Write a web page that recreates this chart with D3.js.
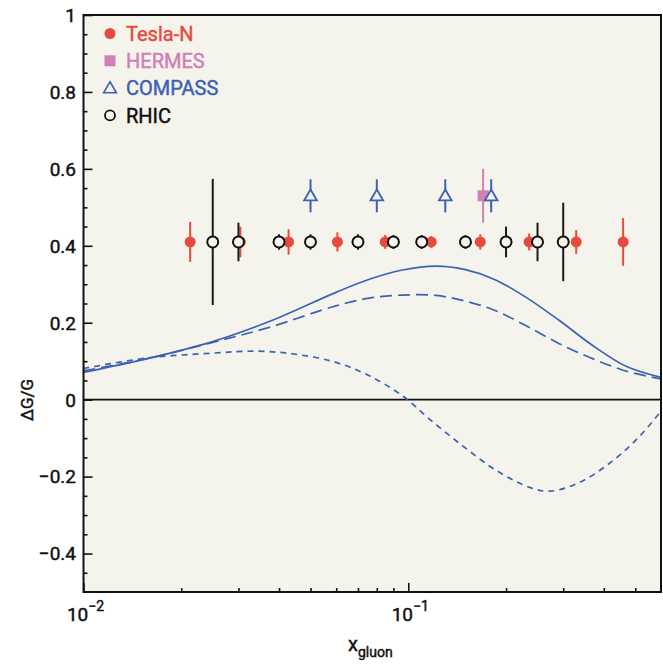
<!DOCTYPE html>
<html>
<head>
<meta charset="utf-8">
<script src="https://cdn.jsdelivr.net/npm/d3@7"></script>
<style>
  body { margin: 0; background: #fff; }
  text { font-family: Roboto, "DejaVu Sans", sans-serif; stroke-width: 0.45px; }
</style>
</head>
<body>
<svg width="663" height="664"></svg>
<script>
// data
const teslaX = [0.0213, 0.0304, 0.0428, 0.0605, 0.0849, 0.1177, 0.1666, 0.2356, 0.3289, 0.4587];
const teslaY = [0.41, 0.41, 0.41, 0.41, 0.41, 0.41, 0.41, 0.41, 0.41, 0.41];
const teslaErr = [0.052, 0.040, 0.033, 0.025, 0.018, 0.015, 0.020, 0.022, 0.031, 0.062];

const rhicX = [0.025, 0.03, 0.04, 0.05, 0.07, 0.09, 0.11, 0.15, 0.2, 0.25, 0.3];
const rhicY = [0.41, 0.41, 0.41, 0.41, 0.41, 0.41, 0.41, 0.41, 0.41, 0.41, 0.41];
const rhicErr = [0.164, 0.05, 0.02, 0.02, 0.02, 0.018, 0.018, 0.018, 0.04, 0.05, 0.102];

const compassX = [0.05, 0.08, 0.13, 0.18];
const compassY = [0.53, 0.53, 0.53, 0.53];
const compassErr = [0.043, 0.043, 0.043, 0.043];

const hermesX = [0.17];
const hermesY = [0.53];
const hermesErr = [0.07];

const solidX = [0.01, 0.0156, 0.025, 0.0373, 0.0599, 0.0759, 0.096, 0.1217, 0.15, 0.185, 0.2307, 0.2926, 0.3708, 0.47, 0.6];
const solidY = [0.071, 0.106, 0.151, 0.203, 0.279, 0.313, 0.337, 0.347, 0.338, 0.312, 0.266, 0.205, 0.140, 0.086, 0.058];

const longX = [0.01, 0.0156, 0.025, 0.0373, 0.0599, 0.0759, 0.096, 0.1217, 0.15, 0.185, 0.2307, 0.2926, 0.3708, 0.47, 0.6];
const longY = [0.075, 0.106, 0.149, 0.188, 0.244, 0.264, 0.272, 0.271, 0.256, 0.232, 0.192, 0.145, 0.106, 0.074, 0.054];

const shortX = [0.01, 0.0156, 0.025, 0.0345, 0.045, 0.0599, 0.0759, 0.096, 0.116, 0.147, 0.1866, 0.2365, 0.2725, 0.3375, 0.4275, 0.517, 0.6];
const shortY = [0.081, 0.108, 0.121, 0.126, 0.118, 0.097, 0.062, 0.01, -0.05, -0.12, -0.184, -0.228, -0.238, -0.215, -0.158, -0.094, -0.03];

const yMajor = [-0.4, -0.2, 0, 0.2, 0.4, 0.6, 0.8, 1];
const yLabels = ['\u22120.4', '\u22120.2', '0', '0.2', '0.4', '0.6', '0.8', '1'];
const yMinor = [-0.45, -0.35, -0.3, -0.25, -0.15, -0.1, -0.05, 0.05, 0.1, 0.15, 0.25, 0.3, 0.35, 0.45, 0.5, 0.55, 0.65, 0.7, 0.75, 0.85, 0.9, 0.95];
const xMajor = [0.01, 0.1];
const xLabels = ['\u22122', '\u22121'];
const xMinor = [0.02, 0.03, 0.04, 0.05, 0.06, 0.07, 0.08, 0.09, 0.2, 0.3, 0.4, 0.5];

const legendNames = ['Tesla-N', 'HERMES', 'COMPASS', 'RHIC'];

const red = '#e84a3e';
const pink = '#cf80b6';
const blue = '#3d62b1';
const bg = '#f5f4ec';
const ink = '#111';

const svg = d3.select('svg');
const plotLeft = 83.5, plotRight = 661, plotTop = 15, plotBottom = 592;

const x = d3.scaleLog().domain([0.01, 0.6]).range([plotLeft, plotRight]);
const y = d3.scaleLinear().domain([-0.5, 1]).range([plotBottom, plotTop]);

svg.append('rect')
    .attr('x', plotLeft).attr('y', plotTop)
    .attr('width', plotRight - plotLeft).attr('height', plotBottom - plotTop)
    .attr('fill', bg);

svg.append('clipPath').attr('id', 'clip')
  .append('rect')
    .attr('x', plotLeft).attr('y', plotTop)
    .attr('width', plotRight - plotLeft).attr('height', plotBottom - plotTop);

// zero line
svg.append('line')
    .attr('x1', plotLeft).attr('x2', plotRight)
    .attr('y1', y(0)).attr('y2', y(0))
    .attr('stroke', ink).attr('stroke-width', 1.6);

// curves
const line = d3.line()
    .x(d => x(d[0]))
    .y(d => y(d[1]))
    .curve(d3.curveCatmullRom.alpha(0.5));

const curves = [
  { xs: solidX, ys: solidY, dash: null },
  { xs: longX, ys: longY, dash: '12,6' },
  { xs: shortX, ys: shortY, dash: '6,5' }
];

svg.append('g').attr('clip-path', 'url(#clip)')
  .selectAll('path')
  .data(curves)
  .join('path')
    .attr('d', c => line(c.xs.map((v, i) => [v, c.ys[i]])))
    .attr('fill', 'none')
    .attr('stroke', blue)
    .attr('stroke-width', 1.7)
    .attr('stroke-dasharray', c => c.dash);

// error bars + markers
function errBars(xs, ys, es, color) {
  svg.append('g').selectAll('line')
    .data(xs)
    .join('line')
      .attr('x1', d => x(d)).attr('x2', d => x(d))
      .attr('y1', (d, i) => y(ys[i] + es[i]))
      .attr('y2', (d, i) => y(ys[i] - es[i]))
      .attr('stroke', color)
      .attr('stroke-width', 2);
}

errBars(teslaX, teslaY, teslaErr, red);
svg.append('g').selectAll('circle')
  .data(teslaX)
  .join('circle')
    .attr('cx', d => x(d))
    .attr('cy', (d, i) => y(teslaY[i]))
    .attr('r', 5.5)
    .attr('fill', red);

errBars(rhicX, rhicY, rhicErr, '#1a1a1a');
svg.append('g').selectAll('circle')
  .data(rhicX)
  .join('circle')
    .attr('cx', d => x(d))
    .attr('cy', (d, i) => y(rhicY[i]))
    .attr('r', 5.5)
    .attr('fill', bg)
    .attr('stroke', ink)
    .attr('stroke-width', 2);

errBars(hermesX, hermesY, hermesErr, pink);
svg.append('g').selectAll('rect')
  .data(hermesX)
  .join('rect')
    .attr('x', d => x(d) - 5.5)
    .attr('y', (d, i) => y(hermesY[i]) - 5.5)
    .attr('width', 11).attr('height', 11)
    .attr('fill', pink);

errBars(compassX, compassY, compassErr, blue);
const tri = d3.symbol().type(d3.symbolTriangle).size(70);
svg.append('g').selectAll('path')
  .data(compassX)
  .join('path')
    .attr('d', tri)
    .attr('transform', (d, i) => `translate(${x(d)},${y(compassY[i]) + 1})`)
    .attr('fill', bg)
    .attr('stroke', blue)
    .attr('stroke-width', 1.8);

// axes (ticks inside the frame)
svg.append('g')
    .attr('transform', `translate(${plotLeft},0)`)
    .call(d3.axisRight(y).tickValues(yMajor).tickSize(9).tickFormat(''));
svg.append('g')
    .attr('transform', `translate(${plotLeft},0)`)
    .call(d3.axisRight(y).tickValues(yMinor).tickSize(4).tickFormat(''));
svg.append('g')
    .attr('transform', `translate(0,${plotBottom})`)
    .call(d3.axisTop(x).tickValues(xMajor).tickSize(9).tickFormat(''));
svg.append('g')
    .attr('transform', `translate(0,${plotBottom})`)
    .call(d3.axisTop(x).tickValues(xMinor).tickSize(4).tickFormat(''));

svg.selectAll('.domain').remove();
svg.selectAll('.tick line').attr('stroke', ink).attr('stroke-width', 1.6);

// frame
svg.append('rect')
    .attr('x', plotLeft).attr('y', plotTop)
    .attr('width', plotRight - plotLeft).attr('height', plotBottom - plotTop)
    .attr('fill', 'none')
    .attr('stroke', ink)
    .attr('stroke-width', 2);

// tick labels
svg.append('g').selectAll('text')
  .data(yMajor)
  .join('text')
    .attr('x', 76)
    .attr('y', d => y(d))
    .attr('dy', '0.36em')
    .attr('text-anchor', 'end')
    .attr('font-size', 19)
    .attr('fill', ink).attr('stroke', ink)
    .text((d, i) => yLabels[i]);

const xl = svg.append('g').selectAll('text')
  .data(xMajor)
  .join('text')
    .attr('x', d => x(d) + 2)
    .attr('y', 621)
    .attr('text-anchor', 'middle')
    .attr('font-size', 19)
    .attr('fill', ink).attr('stroke', ink);
xl.append('tspan').text('10');
xl.append('tspan')
    .attr('dy', -10)
    .attr('font-size', 14)
    .text((d, i) => xLabels[i]);

// axis titles
svg.append('text')
    .attr('transform', 'translate(33,400) rotate(-90)')
    .attr('text-anchor', 'middle')
    .attr('font-size', 17)
    .attr('fill', ink).attr('stroke', ink)
    .text('\u0394G/G');

const xt = svg.append('text')
    .attr('x', 348)
    .attr('y', 651)
    .attr('font-size', 20)
    .attr('fill', ink).attr('stroke', ink);
xt.append('tspan').text('x');
xt.append('tspan')
    .attr('dy', 6)
    .attr('font-size', 14)
    .text('gluon');

// legend
const legendColors = [red, pink, blue, ink];
const lg = svg.append('g').selectAll('g')
  .data(legendNames)
  .join('g')
    .attr('transform', (d, i) => `translate(110,${33.5 + i * 27.3})`);

lg.filter((d, i) => i === 0).append('circle').attr('r', 5.5).attr('fill', red);
lg.filter((d, i) => i === 1).append('rect')
    .attr('x', -5.5).attr('y', -5.5).attr('width', 11).attr('height', 11).attr('fill', pink);
lg.filter((d, i) => i === 2).append('path')
    .attr('d', tri).attr('transform', 'translate(0,1)')
    .attr('fill', 'none').attr('stroke', blue).attr('stroke-width', 1.6);
lg.filter((d, i) => i === 3).append('circle')
    .attr('r', 5).attr('fill', 'none').attr('stroke', ink).attr('stroke-width', 1.8);

lg.append('text')
    .attr('x', 16)
    .attr('dy', '0.36em')
    .attr('font-size', 20)
    .attr('fill', (d, i) => legendColors[i])
    .attr('stroke', (d, i) => legendColors[i])
    .text(d => d);
</script>
</body>
</html>
